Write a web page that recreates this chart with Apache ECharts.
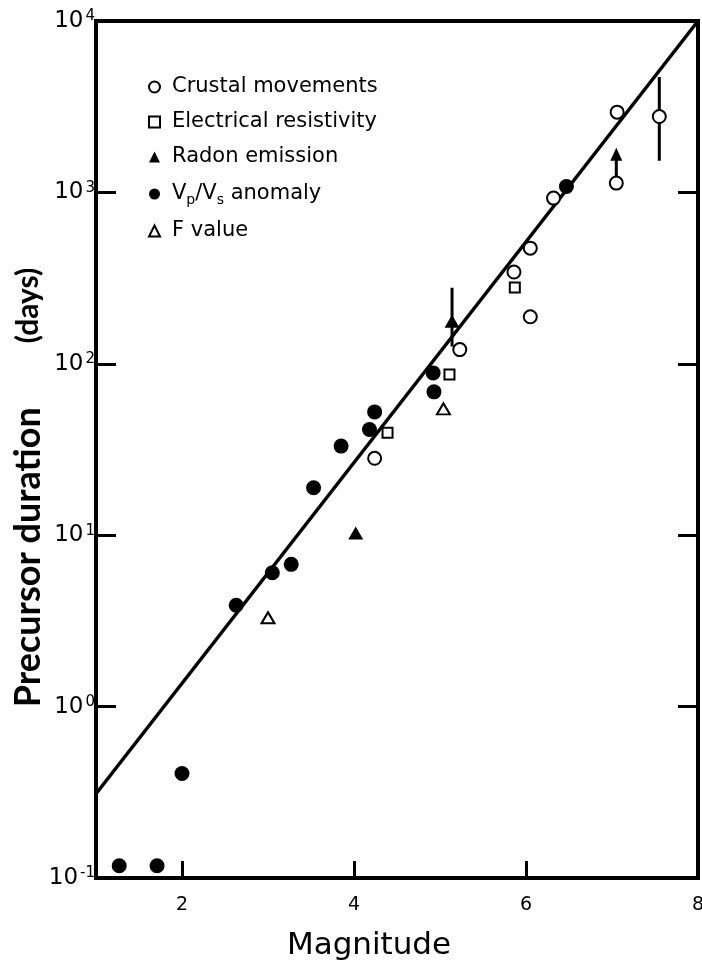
<!DOCTYPE html>
<html>
<head>
<meta charset="utf-8">
<script src="https://cdn.jsdelivr.net/npm/echarts@6/dist/echarts.min.js"></script>
<style>
html,body{margin:0;padding:0;background:#fff;}
#chart{width:702px;height:961px;}
</style>
</head>
<body>
<div id="chart"></div>
<script>
// ---- data ----
const crustalM = [4.24, 5.23, 5.86, 6.05, 6.05, 6.32, 7.06, 7.05, 7.55];
const crustalT = [28.1, 121, 343, 473, 188, 926, 2938, 1133, 2770];
const resistM = [4.39, 5.11, 5.87];
const resistT = [39.6, 86.5, 279];
const radonM = [4.02, 5.14];
const radonT = [10.3, 177];
const vpvsM = [1.27, 1.71, 2.00, 2.63, 3.05, 3.27, 3.53, 3.85, 4.18, 4.24, 4.92, 4.93, 6.47];
const vpvsT = [0.118, 0.118, 0.407, 3.90, 6.04, 6.76, 18.9, 33.1, 41.4, 52.4, 88.5, 68.6, 1082];
const fvalM = [3.00, 5.04];
const fvalT = [3.30, 54.6];
const fitM = [1, 8];
const fitT = [0.31, 10000];
// error bar on crustal point at M 7.55
const errBarM = [7.55, 7.55];
const errBarT = [1528, 4720];
// lower-limit arrow on crustal point at M 7.05
const arrowM = [7.05, 7.05];
const arrowT = [1133, 1667];
// range bar on radon point at M 5.14
const radonBarM = [5.14, 5.14];
const radonBarT = [126, 278];
const xLabelValues = [2, 4, 6, 8];
const xTickValues = [2, 4, 6];

const pairs = (xs, ys) => xs.map((x, i) => [x, ys[i]]);

const chart = echarts.init(document.getElementById('chart'), null, {renderer: 'canvas'});
const F = 'DejaVu Sans';
const openStyle = {color: '#fff', borderColor: '#000', borderWidth: 2, opacity: 1};
const fillStyle = {color: '#000', borderColor: '#000', borderWidth: 0, opacity: 1};

const yLabelFmt = v => {
  const e = Math.round(Math.log10(v));
  return '{b|10}{s|' + (e < 0 ? '-' + (-e) : e) + '}';
};

chart.setOption({
  animation: false,
  backgroundColor: '#fff',
  grid: {left: 96, right: 4, top: 21, bottom: 83, outerBoundsMode: 'none', containLabel: false,
    show: true, borderColor: '#000', borderWidth: 4, backgroundColor: 'transparent'},
  legend: {
    orient: 'vertical', left: 143, top: 71, itemWidth: 11, itemHeight: 11, itemGap: 13,
    selectedMode: false,
    textStyle: {fontFamily: F, fontSize: 21, color: '#000', padding: [0, 0, 0, 7], lineHeight: 22,
      rich: {
        n: {fontFamily: F, fontSize: 21, color: '#000', lineHeight: 26},
        sub: {fontFamily: F, fontSize: 14, color: '#000', lineHeight: 14, verticalAlign: 'bottom'}
      }},
    formatter: name => name === 'Vp/Vs anomaly' ? '{n|V}{sub|p}{n|/V}{sub|s}{n| anomaly}' : name,
    data: [
      {name: 'Crustal movements', icon: 'circle', itemStyle: openStyle},
      {name: 'Electrical resistivity', icon: 'rect', itemStyle: openStyle},
      {name: 'Radon emission', icon: 'triangle', itemStyle: fillStyle},
      {name: 'Vp/Vs anomaly', icon: 'circle', itemStyle: fillStyle},
      {name: 'F value', icon: 'triangle', itemStyle: openStyle}
    ]
  },
  xAxis: {
    type: 'value', min: 1, max: 8,
    name: 'Magnitude', nameLocation: 'middle', nameGap: 52, nameMoveOverlap: false,
    nameTextStyle: {fontFamily: F, fontSize: 31, color: '#000', padding: [0, 56, 0, 0]},
    axisLine: {show: true, lineStyle: {color: '#000', width: 4}},
    axisTick: {show: true, inside: true, length: 17, customValues: xTickValues, lineStyle: {color: '#000', width: 3}},
    axisLabel: {show: true, customValues: xLabelValues, fontFamily: F, fontSize: 19, color: '#000', margin: 18},
    splitLine: {show: false}
  },
  yAxis: [{
    type: 'log', logBase: 10, min: 0.1, max: 10000, position: 'left',
    name: '{a|Precursor duration}{g|}{d|(days)}{p|}', nameLocation: 'middle', nameGap: 50, nameMoveOverlap: false,
    nameTextStyle: {
      rich: {
        a: {fontFamily: 'Lato', fontWeight: 'bold', fontSize: 36, color: '#000', lineHeight: 36},
        d: {fontFamily: 'Lato', fontWeight: 'bold', fontSize: 30, color: '#000', lineHeight: 36},
        g: {width: 64},
        p: {width: 76}
      }
    },
    axisLine: {show: true, lineStyle: {color: '#000', width: 4}},
    axisTick: {show: true, inside: true, length: 20, lineStyle: {color: '#000', width: 3}},
    axisLabel: {
      formatter: yLabelFmt, margin: 1,
      rich: {
        b: {fontFamily: F, fontSize: 23, color: '#000', lineHeight: 24},
        s: {fontFamily: F, fontSize: 15, color: '#000', lineHeight: 14, verticalAlign: 'top', padding: [0, 0, 0, 2]}
      }
    },
    splitLine: {show: false}
  }, {
    type: 'log', logBase: 10, min: 0.1, max: 10000, position: 'right',
    axisLine: {show: true, lineStyle: {color: '#000', width: 4}},
    axisTick: {show: true, inside: true, length: 20, lineStyle: {color: '#000', width: 3}},
    axisLabel: {show: false},
    splitLine: {show: false}
  }],
  series: [
    {name: 'fit', type: 'line', data: pairs(fitM, fitT), symbol: 'none', silent: true, z: 2,
      lineStyle: {color: '#000', width: 3.5}},
    {name: 'errbar', type: 'line', data: pairs(errBarM, errBarT), symbol: 'none', silent: true, z: 2,
      lineStyle: {color: '#000', width: 3}},
    {name: 'arrow', type: 'line', data: pairs(arrowM, arrowT), showSymbol: true, silent: true, z: 2,
      symbol: (v, p) => p.dataIndex === 1 ? 'triangle' : 'none', symbolSize: [12, 13],
      itemStyle: {color: '#000', opacity: 1}, lineStyle: {color: '#000', width: 3}},
    {name: 'radonbar', type: 'line', data: pairs(radonBarM, radonBarT), symbol: 'none', silent: true, z: 2,
      lineStyle: {color: '#000', width: 3}},
    {name: 'Crustal movements', type: 'scatter', data: pairs(crustalM, crustalT), symbol: 'circle', symbolSize: 13, z: 5,
      itemStyle: openStyle},
    {name: 'Electrical resistivity', type: 'scatter', data: pairs(resistM, resistT), symbol: 'rect', symbolSize: 10, z: 5,
      itemStyle: openStyle},
    {name: 'Radon emission', type: 'scatter', data: pairs(radonM, radonT), symbol: 'triangle', symbolSize: [15, 13], z: 5,
      itemStyle: fillStyle},
    {name: 'Vp/Vs anomaly', type: 'scatter', data: pairs(vpvsM, vpvsT), symbol: 'circle', symbolSize: 15, z: 5,
      itemStyle: fillStyle},
    {name: 'F value', type: 'scatter', data: pairs(fvalM, fvalT), symbol: 'triangle', symbolSize: [13, 11], z: 5,
      itemStyle: openStyle}
  ]
});
</script>
</body>
</html>
